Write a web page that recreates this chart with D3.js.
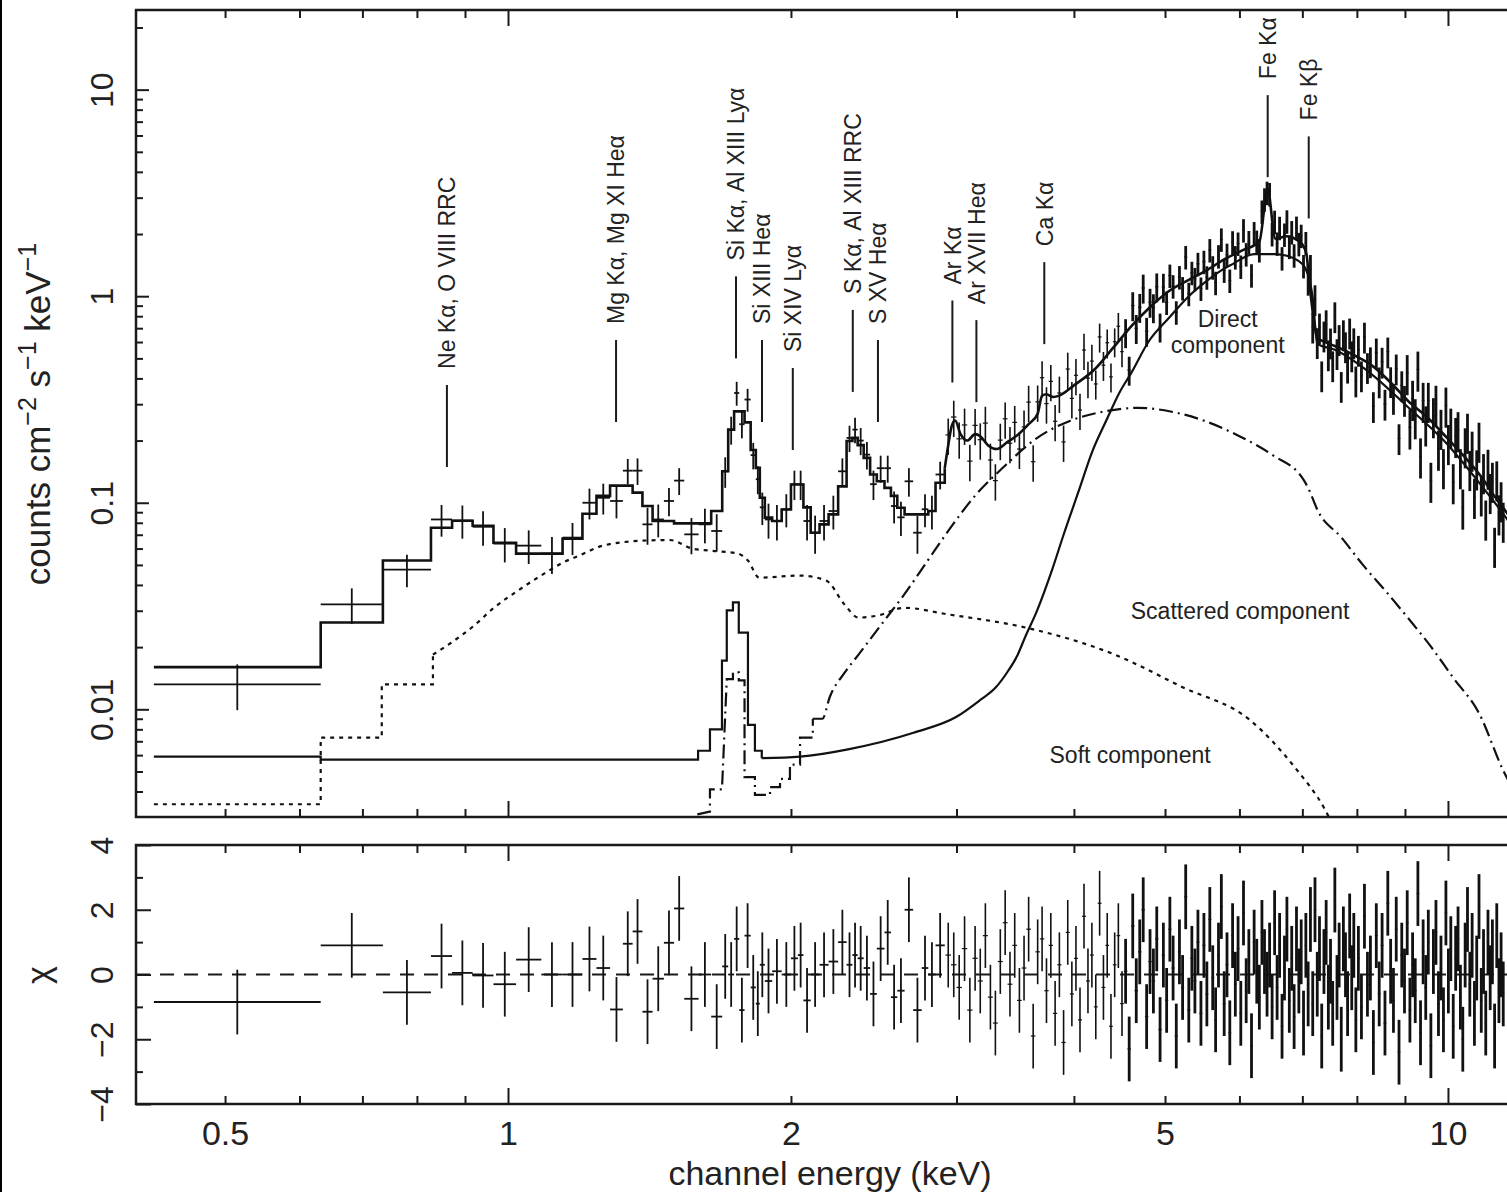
<!DOCTYPE html>
<html lang="en">
<head>
<meta charset="utf-8">
<title>X-ray spectrum with model components</title>
<script src="https://cdn.jsdelivr.net/npm/d3@7"></script>
<style>
  body { margin: 0; background: #fff; }
  svg { display: block; background: #fff; font-family: "Liberation Sans", Arial, Helvetica, sans-serif; }
  .axis line { stroke: #1a1a1a; stroke-width: 2; }
  .axis path { display: none; }
  .frame { fill: none; stroke: #1a1a1a; stroke-width: 2.5; }
  .err { stroke: #111; stroke-width: 1.8; }
  .errHi { stroke: #111; stroke-width: 1.6; }
  .errHi.dense { stroke-width: 2.8; }
  .errHiW { stroke: #111; stroke-width: 1.2; }
  .comp { fill: none; stroke: #111; }
  text { fill: #222; }
</style>
</head>
<body>
<svg width="1507" height="1192"></svg>
<script>
// ---- data -------------------------------------------------------------
// low-energy grouped bins: edges (keV), counts cm^-2 s^-1 keV^-1, 1-sigma, model, chi
var lowEdges = [0.42, 0.632, 0.736, 0.828, 0.872, 0.917, 0.965, 1.02, 1.085, 1.143, 1.2, 1.242, 1.284,
  1.325, 1.357, 1.39, 1.425, 1.465, 1.502, 1.54, 1.595, 1.645, 1.69, 1.715, 1.74, 1.762, 1.785, 1.812,
  1.835, 1.853, 1.876, 1.91, 1.955, 2.0, 2.034, 2.062, 2.099, 2.145, 2.193, 2.245, 2.292, 2.325, 2.355,
  2.39, 2.428, 2.468, 2.515, 2.555, 2.595, 2.642, 2.698, 2.755, 2.8, 2.85, 2.915];
var lowCounts = [0.0132, 0.0322, 0.0475, 0.083, 0.082, 0.0765, 0.0634, 0.062, 0.0567, 0.0678, 0.1, 0.1057,
  0.102, 0.143, 0.143, 0.0786, 0.083, 0.102, 0.128, 0.0703, 0.0786, 0.073, 0.142, 0.226, 0.34, 0.24, 0.316,
  0.17, 0.13, 0.095, 0.083, 0.0816, 0.093, 0.123, 0.123, 0.0816, 0.0716, 0.0816, 0.0912, 0.142, 0.206,
  0.226, 0.2, 0.171, 0.123, 0.147, 0.147, 0.0964, 0.085, 0.127, 0.0716, 0.093, 0.0912, 0.137];
var lowErr = [0.0033, 0.0063, 0.0085, 0.0145, 0.015, 0.0145, 0.012, 0.0115, 0.0115, 0.012, 0.017, 0.018,
  0.018, 0.02, 0.021, 0.016, 0.015, 0.016, 0.019, 0.014, 0.015, 0.015, 0.024, 0.035, 0.045, 0.035, 0.04,
  0.025, 0.02, 0.017, 0.016, 0.016, 0.017, 0.02, 0.02, 0.016, 0.015, 0.016, 0.017, 0.022, 0.03, 0.032,
  0.03, 0.026, 0.02, 0.022, 0.022, 0.017, 0.016, 0.02, 0.015, 0.017, 0.017, 0.021];
var lowModel = [0.016, 0.0263, 0.0525, 0.0757, 0.0818, 0.0774, 0.064, 0.0567, 0.0567, 0.067, 0.0885, 0.108,
  0.121, 0.121, 0.112, 0.0964, 0.0816, 0.0816, 0.0795, 0.0795, 0.0795, 0.0912, 0.142, 0.226, 0.277, 0.277,
  0.245, 0.18, 0.1475, 0.1057, 0.0847, 0.0816, 0.0928, 0.1226, 0.1226, 0.095, 0.0716, 0.0786, 0.0878, 0.12,
  0.199, 0.206, 0.19, 0.165, 0.137, 0.127, 0.118, 0.108, 0.0946, 0.0878, 0.0878, 0.0878, 0.0912, 0.125];
var lowChi = [-0.85, 0.9, -0.55, 0.57, 0.05, -0.03, -0.3, 0.46, 0.0, 0.0, 0.48, 0.2, -1.08, 0.95, 1.33,
  -1.15, -0.13, 0.98, 2.04, -0.75, 0.0, -1.3, 0.25, 0.0, 1.1, -1.1, 1.2, -0.4, -0.9, 0.3, -0.2, 0.1, 0.0,
  0.5, 0.6, -0.8, 0.0, 0.3, 0.4, 1.0, 0.3, 0.6, 0.5, 0.2, -0.6, 0.8, 1.3, -0.7, -0.5, 2.0, -1.1, 0.2, 0.0, 0.9];

// high-energy channels: centre energy (keV), counts, chi
var highE = [2.94, 2.98, 3.02, 3.06, 3.10, 3.14, 3.18, 3.22, 3.26, 3.30, 3.34, 3.38, 3.42, 3.46, 3.50,
  3.54, 3.58, 3.62, 3.66, 3.70, 3.74, 3.78, 3.82, 3.86, 3.90, 3.94, 3.98, 4.02, 4.06, 4.10, 4.14, 4.18,
  4.22, 4.26, 4.30, 4.34, 4.38, 4.42, 4.46, 4.50, 4.54, 4.58, 4.62, 4.66, 4.70, 4.74, 4.78, 4.82, 4.86,
  4.90, 4.94, 4.98,
  5.02, 5.06, 5.10, 5.14, 5.18, 5.22, 5.26, 5.30, 5.34, 5.38, 5.42, 5.46, 5.50, 5.54, 5.58, 5.62, 5.66,
  5.70, 5.74, 5.78, 5.82, 5.86, 5.90, 5.94, 5.98, 6.02, 6.06, 6.10, 6.14, 6.18, 6.22, 6.26, 6.30, 6.34,
  6.38, 6.42, 6.46, 6.50, 6.54, 6.58, 6.62, 6.66, 6.70, 6.74, 6.78, 6.82, 6.86, 6.90, 6.94, 6.98, 7.02,
  7.06, 7.10, 7.14, 7.18, 7.22, 7.26, 7.30, 7.34, 7.38, 7.42, 7.46, 7.50, 7.54, 7.58, 7.62, 7.66, 7.70,
  7.74, 7.78, 7.82, 7.86, 7.90, 7.94, 7.98,
  8.03, 8.09, 8.15, 8.21, 8.27, 8.33, 8.39, 8.45, 8.51, 8.57, 8.63, 8.69, 8.75, 8.81, 8.87, 8.93, 8.99,
  9.05, 9.11, 9.17, 9.23, 9.29, 9.35, 9.41, 9.47, 9.53, 9.59, 9.65, 9.71, 9.77, 9.83, 9.89, 9.95, 10.01,
  10.07, 10.13, 10.19, 10.25, 10.31, 10.37, 10.43, 10.49, 10.55, 10.61, 10.67, 10.73, 10.79, 10.85,
  10.91, 10.97, 11.03, 11.09, 11.15, 11.21, 11.27, 11.33, 11.39, 11.45];
var highCounts = [0.213, 0.26, 0.204, 0.238, 0.159, 0.237, 0.202, 0.243, 0.161, 0.128, 0.201, 0.255, 0.194,
  0.245, 0.182, 0.233, 0.307, 0.158, 0.308, 0.403, 0.302, 0.387, 0.248, 0.34, 0.197, 0.444, 0.32, 0.414,
  0.281, 0.549, 0.401, 0.485, 0.376, 0.635, 0.463, 0.595, 0.407, 0.602, 0.715, 0.539, 0.667, 0.439, 0.901,
  0.699, 0.884, 1.096, 0.677, 0.936, 0.881, 1.111, 0.71, 1.107,
  0.932, 1.259, 1.118, 0.836, 1.238, 1.095, 1.548, 1.028, 1.299, 1.213, 1.435, 1.09, 1.469, 1.235, 1.673,
  1.382, 1.162, 1.563, 1.884, 1.333, 1.59, 1.191, 1.826, 1.547, 1.8, 1.393, 2.089, 1.599, 1.83, 1.264,
  2.023, 1.839, 1.673, 2.572, 2.946, 3.171, 3.126, 2.001, 2.295, 1.801, 2.145, 1.529, 1.99, 2.305, 1.738,
  2.045, 1.579, 2.149, 1.792, 1.964, 1.401, 1.81, 1.212, 1.353, 0.711, 0.965, 0.598, 0.704, 0.413, 0.644,
  0.73, 0.522, 0.596, 0.462, 0.798, 0.529, 0.619, 0.367, 0.653, 0.571, 0.455, 0.666, 0.516, 0.597, 0.39,
  0.549, 0.413, 0.636, 0.453, 0.483, 0.293, 0.533, 0.386, 0.481, 0.301, 0.539, 0.387, 0.321, 0.446, 0.205,
  0.37, 0.314, 0.425, 0.232, 0.319, 0.26, 0.442, 0.168, 0.312, 0.24, 0.312, 0.128, 0.263, 0.302, 0.183,
  0.231, 0.149, 0.296, 0.195, 0.234, 0.126, 0.211, 0.225, 0.149, 0.095, 0.188, 0.221, 0.146, 0.181, 0.107,
  0.147, 0.2, 0.11, 0.141, 0.084, 0.148, 0.113, 0.128, 0.062, 0.13, 0.089, 0.103, 0.082];
var highChi = [0.6, 0.3, -0.4, 0.8, -1.1, 0.5, -0.2, 1.2, -0.7, -1.5, 0.4, 1.6, -0.3, 0.9, -0.8, 0.2, 1.4,
  -1.9, 0.7, 1.1, -0.5, 0.9, -1.2, 0.3, -2.1, 1.3, -0.6, 0.5, -1.4, 1.8, -0.2, 0.6, -1.0, 2.2, -0.4, 0.9,
  -1.6, 0.3, 1.2, -0.9, 0.1, -2.3, 1.5, -0.5, 0.7, 2.0, -1.3, 0.4, -0.2, 1.1, -1.7, 0.6,
  -0.8, 1.4, 0.2, -1.9, 0.7, -0.4, 2.4, -1.1, 0.5, -0.2, 1.0, -1.2, 0.9, -0.6, 1.7, -0.1, -1.4, 0.6, 2.1,
  -0.9, 0.3, -1.8, 1.2, -0.3, 0.8, -1.2, 1.9, -0.5, 0.4, -2.2, 1.0, 0.1, -0.7, 1.3, 0.4, -0.3, 0.6, -1.0,
  1.6, -0.4, 0.9, -1.6, 0.2, 1.4, -0.8, 0.5, -1.3, 1.1, -0.2, 0.7, -1.5, 0.9, -0.6, 1.7, -0.9, 2.0, -0.3,
  0.8, -1.9, 0.4, 1.3, -0.7, 0.1, -1.2, 2.3, -0.4, 0.6, -2.0, 1.1, 0.3, -0.9, 1.5, -0.1, 0.9, -1.4,
  0.5, -1.0, 1.8, -0.3, 0.2, -2.1, 1.2, -0.6, 0.9, -1.5, 2.2, 0.1, -0.8, 1.4, -2.4, 0.6, -0.2, 1.6, -1.1,
  0.3, -0.5, 2.5, -1.8, 0.7, -0.4, 1.0, -2.2, 0.4, 1.3, -0.9, 0.2, -1.4, 1.9, -0.2, 0.8, -1.6, 0.5, 1.1,
  -0.7, -2.0, 0.6, 1.7, -0.3, 0.9, -1.2, 0.2, 2.1, -0.8, 0.4, -1.5, 1.0, -0.1, 0.7, -1.9, 1.2, -0.5, 0.3, -0.6];
// fractional 1-sigma error of the high-energy channels, by energy band [from keV, fraction]
var highRelErr = [[2.9, 0.2], [4.2, 0.16], [5.0, 0.13], [7.1, 0.17], [9.0, 0.22]];

// total model above the grouped part, [keV, counts]
var totalModel = [[2.915, 0.147], [2.94, 0.19], [2.965, 0.235], [2.99, 0.25], [3.03, 0.215], [3.08, 0.2],
  [3.14, 0.215], [3.18, 0.21], [3.24, 0.19], [3.31, 0.182], [3.40, 0.197], [3.49, 0.214], [3.58, 0.24],
  [3.66, 0.27], [3.70, 0.33], [3.74, 0.335], [3.80, 0.325], [3.86, 0.33], [4.0, 0.37], [4.22, 0.448],
  [4.4, 0.56], [4.61, 0.72], [4.8, 0.87], [5.05, 1.06], [5.3, 1.2], [5.53, 1.33], [5.8, 1.52], [6.05, 1.67],
  [6.30, 1.84], [6.43, 3.3], [6.55, 1.9], [6.74, 1.95], [6.9, 1.88], [7.0, 1.78], [7.07, 1.6], [7.13, 1.1],
  [7.19, 0.8], [7.26, 0.63], [7.4, 0.6], [7.58, 0.574], [8.0, 0.51], [8.29, 0.464], [8.7, 0.38],
  [9.07, 0.311], [9.5, 0.26], [9.9, 0.214], [10.4, 0.168], [10.87, 0.132], [11.2, 0.108], [11.5, 0.092],
  [11.93, 0.072]];
var directComp = [[0.42, 0.0059], [0.632, 0.0059], [0.632, 0.0057], [1.593, 0.0057], [1.593, 0.0063],
  [1.64, 0.0063], [1.64, 0.008], [1.689, 0.008], [1.689, 0.0172], [1.709, 0.0172], [1.709, 0.0301],
  [1.735, 0.0301], [1.735, 0.0329], [1.76, 0.0329], [1.76, 0.0235], [1.80, 0.0235], [1.80, 0.0084],
  [1.831, 0.0084], [1.831, 0.0063], [1.862, 0.0063], [1.862, 0.0058], [2.045, 0.0059], [2.3, 0.0064],
  [2.7, 0.0077], [3.0, 0.0092], [3.18, 0.0111], [3.3, 0.0127], [3.4, 0.0152], [3.48, 0.0181], [3.55, 0.0224],
  [3.65, 0.0296], [3.79, 0.047], [3.9, 0.07], [4.05, 0.115], [4.18, 0.175], [4.33, 0.25], [4.47, 0.34],
  [4.61, 0.43], [4.8, 0.6], [5.05, 0.786], [5.3, 1.0], [5.53, 1.18], [5.75, 1.34], [5.93, 1.45],
  [6.08, 1.55], [6.22, 1.6], [6.55, 1.6], [6.74, 1.57], [6.92, 1.49], [7.05, 1.37], [7.18, 0.98],
  [7.26, 0.59], [7.58, 0.55], [8.29, 0.42], [9.07, 0.29], [9.9, 0.2], [10.87, 0.12], [11.5, 0.086],
  [11.93, 0.068]];
var scatteredComp = [[1.59, 0.0031], [1.64, 0.0032], [1.64, 0.0041], [1.689, 0.0041], [1.709, 0.014],
  [1.735, 0.014], [1.735, 0.0151], [1.76, 0.0151], [1.76, 0.0138], [1.785, 0.0138], [1.785, 0.0047],
  [1.831, 0.0047], [1.831, 0.00385], [1.90, 0.00385], [1.90, 0.0042], [1.947, 0.0042], [1.947, 0.0046],
  [1.995, 0.0046], [1.995, 0.0054], [2.045, 0.0054], [2.045, 0.0073], [2.11, 0.0073], [2.11, 0.009],
  [2.16, 0.009], [2.2, 0.0115], [2.28, 0.015], [2.36, 0.0184], [2.5, 0.026], [2.64, 0.036], [2.8, 0.053],
  [2.94, 0.073], [3.15, 0.11], [3.36, 0.1476], [3.65, 0.205], [3.96, 0.249], [4.3, 0.276], [4.68, 0.288],
  [5.1, 0.275], [5.51, 0.249], [6.0, 0.21], [6.51, 0.17], [7.03, 0.128], [7.1, 0.118], [7.27, 0.0915],
  [7.7, 0.068], [8.12, 0.05], [8.6, 0.037], [9.06, 0.0278], [9.6, 0.02], [10.12, 0.0143], [10.8, 0.0095],
  [11.44, 0.0051], [11.93, 0.0036]];
var softComp = [[0.42, 0.00347], [0.632, 0.00347], [0.632, 0.0073], [0.734, 0.0073], [0.734, 0.0132],
  [0.832, 0.0132], [0.832, 0.0184], [0.87, 0.021], [0.92, 0.0254], [0.966, 0.031], [1.025, 0.0376],
  [1.084, 0.0444], [1.144, 0.0513], [1.196, 0.056], [1.262, 0.062], [1.39, 0.0655], [1.487, 0.066],
  [1.57, 0.06], [1.64, 0.0586], [1.75, 0.057], [1.80, 0.0525], [1.85, 0.0434], [2.045, 0.0444],
  [2.18, 0.042], [2.28, 0.0322], [2.36, 0.0278], [2.47, 0.0284], [2.64, 0.031], [2.94, 0.0288],
  [3.55, 0.0249], [4.42, 0.0184], [5.22, 0.0128], [6.15, 0.0089], [6.88, 0.0052], [7.39, 0.0033],
  [7.5, 0.0029]];

// emission line identifications: name, energy (keV), counts level at the foot of the marker
var lineNames = ["Ne K\u03b1, O VIII RRC", "Mg K\u03b1, Mg XI He\u03b1", "Si K\u03b1, Al XIII Ly\u03b1",
  "Si XIII He\u03b1", "Si XIV Ly\u03b1", "S K\u03b1, Al XIII RRC", "S XV He\u03b1", "Ar K\u03b1",
  "Ar XVII He\u03b1", "Ca K\u03b1", "Fe K\u03b1", "Fe K\u03b2"];
var lineEnergy = [0.861, 1.303, 1.748, 1.863, 2.009, 2.327, 2.475, 2.97, 3.15, 3.72, 6.43, 7.11];
var lineFoot = [0.149, 0.246, 0.50, 0.246, 0.18, 0.344, 0.246, 0.382, 0.307, 0.586, 3.77, 2.38];

// component captions: text lines, energy and counts of the first line
var compNames = [["Direct", "component"], ["Scattered component"], ["Soft component"]];
var compE = [5.83, 6.01, 4.59];
var compV = [0.78, 0.0299, 0.006];

// tick labels
var xLabels = [0.5, 1, 2, 5, 10];
var yLabels = [0.01, 0.1, 1, 10];
var chiLabels = [-4, -2, 0, 2, 4];
var chiMinor = [-3, -1, 1, 3];

// ---- layout -----------------------------------------------------------
var svg = d3.select("svg");
var left = 136, right = 1520;
var x = d3.scaleLog().domain([0.402, 11.93]).range([left, right]);
var y = d3.scaleLog().domain([0.00301, 24.3]).range([817, 10]);
var yc = d3.scaleLinear().domain([-4, 4]).range([1104, 845]);

var defs = svg.append("defs");
defs.append("clipPath").attr("id", "clipTop").append("rect")
  .attr("x", left).attr("y", 10).attr("width", right - left).attr("height", 807);
defs.append("clipPath").attr("id", "clipRes").append("rect")
  .attr("x", left).attr("y", 845).attr("width", right - left).attr("height", 259);

// figure border on the left
svg.append("line").attr("x1", 1).attr("x2", 1).attr("y1", 0).attr("y2", 1192)
  .attr("stroke", "#000").attr("stroke-width", 2);

function isDecade(d) {
  var l = Math.log10(d);
  return Math.abs(l - Math.round(l)) < 1e-6;
}
var xAll = x.ticks();
var xMajor = xAll.filter(isDecade);
var xMinor = xAll.filter(function(d) { return !isDecade(d); });
var yAll = y.ticks();
var yMajor = yAll.filter(isDecade);
var yMinor = yAll.filter(function(d) { return !isDecade(d); });

function tickRow(gen, pos, vals, size) {
  svg.append("g").attr("class", "axis").attr("transform", "translate(0," + pos + ")")
    .call(gen.tickValues(vals).tickSize(-size).tickFormat(""));
}
[[10, true], [817, false], [845, true], [1104, false]].forEach(function(r) {
  var gen = r[1] ? d3.axisTop(x) : d3.axisBottom(x);
  tickRow(gen, r[0], xMinor, 8);
  gen = r[1] ? d3.axisTop(x) : d3.axisBottom(x);
  tickRow(gen, r[0], xMajor, 16);
});

svg.append("g").attr("class", "axis").attr("transform", "translate(" + left + ",0)")
  .call(d3.axisLeft(y).tickValues(yMinor).tickSize(-7).tickFormat(""));
svg.append("g").attr("class", "axis").attr("transform", "translate(" + left + ",0)")
  .call(d3.axisLeft(y).tickValues(yMajor).tickSize(-13).tickFormat(""));
svg.append("g").attr("class", "axis").attr("transform", "translate(" + left + ",0)")
  .call(d3.axisLeft(yc).tickValues(chiMinor).tickSize(-7).tickFormat(""));
svg.append("g").attr("class", "axis").attr("transform", "translate(" + left + ",0)")
  .call(d3.axisLeft(yc).tickValues(chiLabels).tickSize(-15).tickFormat(""));

// tick labels
svg.append("g").attr("class", "axis").attr("transform", "translate(0,1104)")
  .call(d3.axisBottom(x).tickValues(xLabels).tickSize(0).tickPadding(17)
    .tickFormat(function(d) { return String(d); }))
  .call(function(g) {
    g.selectAll("text").attr("font-size", 34).attr("fill", "#222")
      .attr("font-family", "Liberation Sans, Arial, sans-serif");
  });

function rotatedLabels(scale, vals, fmt) {
  svg.append("g").attr("class", "axis").attr("transform", "translate(" + left + ",0)")
    .call(d3.axisLeft(scale).tickValues(vals).tickSize(0).tickFormat(fmt))
    .call(function(g) {
      g.selectAll("text").attr("x", null).attr("dy", null)
        .attr("transform", "translate(-23,0) rotate(-90)")
        .attr("text-anchor", "middle").attr("font-size", 32).attr("fill", "#222")
        .attr("font-family", "Liberation Sans, Arial, sans-serif");
    });
}
rotatedLabels(y, yLabels, function(d) { return String(d); });
rotatedLabels(yc, chiLabels, d3.format("d"));

// axis titles
var yTitle = svg.append("text").attr("transform", "translate(50,414) rotate(-90)")
  .attr("text-anchor", "middle").attr("font-size", 35);
yTitle.append("tspan").text("counts cm");
yTitle.append("tspan").attr("dy", -14).attr("font-size", 25).text("\u22122");
yTitle.append("tspan").attr("dy", 14).text(" s");
yTitle.append("tspan").attr("dy", -14).attr("font-size", 25).text("\u22121");
yTitle.append("tspan").attr("dy", 14).text(" keV");
yTitle.append("tspan").attr("dy", -14).attr("font-size", 25).text("\u22121");

svg.append("text").attr("transform", "translate(38,975) rotate(-90)")
  .attr("text-anchor", "middle").attr("dy", "0.35em").attr("font-size", 34).text("\u03c7");
svg.append("text").attr("x", 830).attr("y", 1185).attr("text-anchor", "middle")
  .attr("font-size", 34).text("channel energy (keV)");

// ---- spectrum panel ---------------------------------------------------
var upper = svg.append("g").attr("clip-path", "url(#clipTop)");
var lower = svg.append("g").attr("clip-path", "url(#clipRes)");

var lowBins = lowCounts.map(function(v, i) {
  var lo = lowEdges[i], hi = lowEdges[i + 1];
  return { lo: lo, hi: hi, c: Math.sqrt(lo * hi), v: v, e: lowErr[i], m: lowModel[i], chi: lowChi[i] };
});

function relErr(e) {
  var r = highRelErr[0][1];
  highRelErr.forEach(function(b) { if (e >= b[0]) r = b[1]; });
  return r;
}
var highBins = highE.map(function(e, i) {
  var prev = i > 0 ? highE[i - 1] : e - (highE[1] - highE[0]);
  var next = i < highE.length - 1 ? highE[i + 1] : e + (e - highE[i - 1]);
  var v = highCounts[i];
  return { lo: (prev + e) / 2, hi: (e + next) / 2, c: e, v: v, e: v * relErr(e), chi: highChi[i] };
});

var line = d3.line().x(function(d) { return x(d[0]); }).y(function(d) { return y(d[1]); });
var smooth = d3.line().curve(d3.curveMonotoneX)
  .x(function(d) { return x(d[0]); }).y(function(d) { return y(d[1]); });

// histogram part (repeated energies) drawn straight, the rest as a smooth curve
function drawModel(pts, width, dash) {
  var cut = 0;
  pts.forEach(function(p, i) { if (i > 0 && p[0] === pts[i - 1][0]) cut = i; });
  var g = upper.append("g");
  [[pts.slice(0, cut + 1), line], [pts.slice(cut), smooth]].forEach(function(part) {
    if (part[0].length < 2) return;
    g.append("path").datum(part[0]).attr("class", "comp").attr("d", part[1])
      .attr("stroke-width", width).attr("stroke-dasharray", dash);
  });
}
drawModel(softComp, 2.2, "4,5");
drawModel(scatteredComp, 2.2, "14,5,2,5");
drawModel(directComp, 2.2, null);

// total model: histogram steps then the fine-channel curve
var steps = [];
lowBins.forEach(function(b) { steps.push([b.lo, b.m]); steps.push([b.hi, b.m]); });
drawModel(steps.concat(totalModel), 2.6, null);

// data crosses
function crosses(g, bins, clsW, clsH, yScale, yv, ylo, yhi) {
  g.selectAll(null).data(bins).enter().append("line").attr("class", clsW)
    .attr("x1", function(d) { return x(d.lo); }).attr("x2", function(d) { return x(d.hi); })
    .attr("y1", function(d) { return yScale(yv(d)); }).attr("y2", function(d) { return yScale(yv(d)); });
  g.selectAll(null).data(bins).enter().append("line")
    .attr("class", function(d) { return typeof clsH === "function" ? clsH(d) : clsH; })
    .attr("x1", function(d) { return x(d.c); }).attr("x2", function(d) { return x(d.c); })
    .attr("y1", function(d) { return yScale(ylo(d)); }).attr("y2", function(d) { return yScale(yhi(d)); });
}
// channels above ~4.5 keV are packed tightly and read as a dark band
function hiClass(d) { return d.c > 4.5 ? "errHi dense" : "errHi"; }
crosses(upper, lowBins, "err", "err", y,
  function(d) { return d.v; }, function(d) { return d.v - d.e; }, function(d) { return d.v + d.e; });
crosses(upper, highBins, "errHiW", hiClass, y,
  function(d) { return d.v; }, function(d) { return d.v - d.e; }, function(d) { return d.v + d.e; });

// line identifications
var ids = svg.append("g");
lineNames.forEach(function(name, i) {
  var px = x(lineEnergy[i]), foot = y(lineFoot[i]);
  ids.append("line").attr("x1", px).attr("x2", px).attr("y1", foot).attr("y2", foot - 82)
    .attr("stroke", "#1a1a1a").attr("stroke-width", 2);
  ids.append("text").attr("transform", "translate(" + px + "," + (foot - 98) + ") rotate(-90)")
    .attr("dy", "0.36em").attr("font-size", 23).text(name);
});

compNames.forEach(function(lines, i) {
  var t = svg.append("text").attr("x", x(compE[i])).attr("y", y(compV[i]))
    .attr("text-anchor", "middle").attr("font-size", 23);
  lines.forEach(function(s, k) {
    t.append("tspan").attr("x", x(compE[i])).attr("dy", k === 0 ? "0.35em" : 26).text(s);
  });
});

// ---- residual panel ---------------------------------------------------
lower.append("line").attr("x1", left).attr("x2", right).attr("y1", yc(0)).attr("y2", yc(0))
  .attr("stroke", "#1a1a1a").attr("stroke-width", 2).attr("stroke-dasharray", "14,10");
crosses(lower, lowBins, "err", "err", yc,
  function(d) { return d.chi; }, function(d) { return d.chi - 1; }, function(d) { return d.chi + 1; });
crosses(lower, highBins, "errHiW", hiClass, yc,
  function(d) { return d.chi; }, function(d) { return d.chi - 1; }, function(d) { return d.chi + 1; });

// frames
svg.append("rect").attr("class", "frame").attr("x", left).attr("y", 10)
  .attr("width", right - left).attr("height", 807);
svg.append("rect").attr("class", "frame").attr("x", left).attr("y", 845)
  .attr("width", right - left).attr("height", 259);
</script>
</body>
</html>
